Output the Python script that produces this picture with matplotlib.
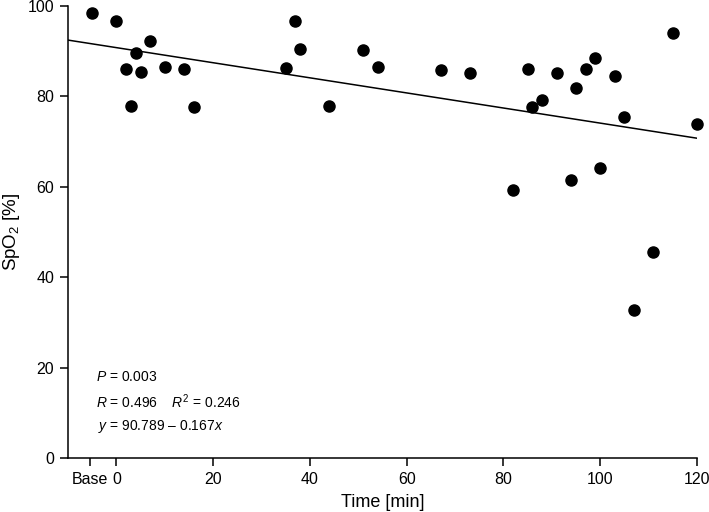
import matplotlib
matplotlib.use("Agg")
import matplotlib.pyplot as plt
import numpy as np

plt.rcParams['font.family'] = ['Liberation Sans', 'DejaVu Sans']
plt.rcParams['mathtext.fontset'] = 'custom'
plt.rcParams['mathtext.rm'] = 'Liberation Sans'
plt.rcParams['mathtext.it'] = 'Liberation Sans:italic'

# data
time_min = [-5, 0, 2, 3, 4, 5, 7, 10, 14, 16, 35, 37, 38, 44, 51, 54, 67, 73,
            82, 85, 86, 88, 91, 94, 95, 97, 99, 100, 103, 105, 107, 111, 115, 120]
spo2 = [98.5, 96.7, 86.1, 77.9, 89.5, 85.4, 92.3, 86.6, 86.1, 77.6, 86.3, 96.7,
        90.4, 77.9, 90.3, 86.4, 85.8, 85.2, 59.4, 86.0, 77.7, 79.1, 85.2, 61.6,
        81.9, 86.0, 88.6, 64.2, 84.6, 75.4, 32.7, 45.5, 94.0, 73.8]
intercept = 90.789
slope = -0.167
xtick_pos = [-5.4, 0, 20, 40, 60, 80, 100, 120]
xtick_labels = ['Base', '0', '20', '40', '60', '80', '100', '120']
ytick_pos = [0, 20, 40, 60, 80, 100]

fig = plt.figure(figsize=(7.09, 5.12), dpi=100)
ax = fig.add_axes([68/709, 1-458/512, (697-68)/709, (458-6)/512])

ax.scatter(time_min, spo2, s=64, color='black', zorder=3, clip_on=False)
xl = np.array([-10, 120])
ax.plot(xl, intercept + slope*xl, color='black', lw=1.1)

ax.set_xlim(-10, 120)
ax.set_ylim(0, 100)
ax.set_xticks(xtick_pos)
ax.set_xticklabels(xtick_labels)
ax.set_yticks(ytick_pos)
for s in ['top', 'right']:
    ax.spines[s].set_visible(False)
for s in ['left', 'bottom']:
    ax.spines[s].set_linewidth(1.1)
ax.tick_params(direction='out', length=6, width=1.1, labelsize=11.5, pad=4)

ax.set_xlabel('Time [min]', fontsize=13, labelpad=5)
ax.set_ylabel('SpO$_2$ [%]', fontsize=13.5, labelpad=4)

fs = 10
ax.text(-4.3, 17.9, '$\\it{P}$ = 0.003', fontsize=fs, va='center', ha='left')
ax.text(-4.3, 12.5, '$\\it{R}$ = 0.496    $\\it{R}^2$ = 0.246', fontsize=fs, va='center', ha='left')
ax.text(-3.8, 6.9, '$\\it{y}$ = 90.789 \u2013 0.167$\\it{x}$', fontsize=fs, va='center', ha='left')

fig.savefig('out.png', dpi=100)
